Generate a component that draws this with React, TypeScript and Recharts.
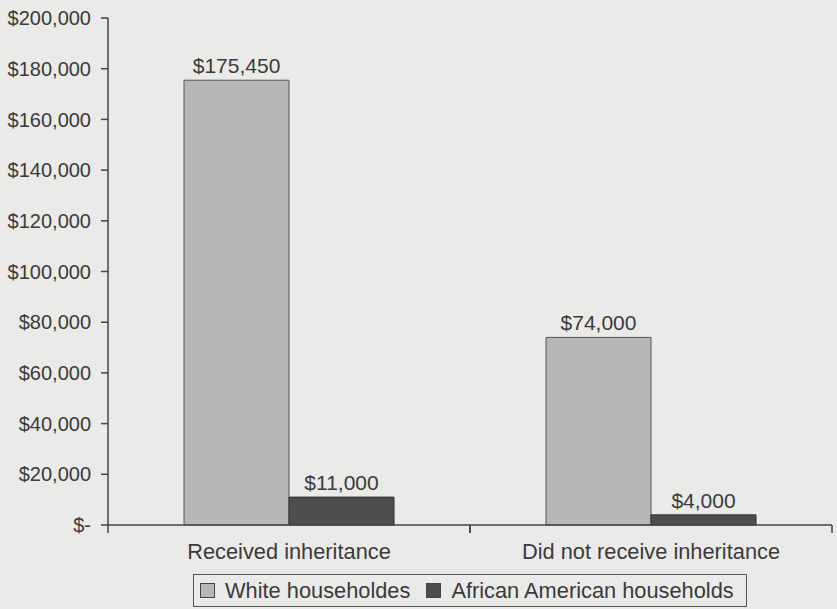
import React from "react";
import { BarChart, Bar, XAxis, YAxis, Legend, LabelList } from "recharts";

const categories = ["Received inheritance", "Did not receive inheritance"];
const whiteValues = [175450, 74000];
const africanAmericanValues = [11000, 4000];
const yTicks = [0, 20000, 40000, 60000, 80000, 100000, 120000, 140000, 160000, 180000, 200000];
const seriesOrder = ["white", "black"];

const data = categories.map((name, i) => ({
  name,
  white: whiteValues[i],
  black: africanAmericanValues[i],
}));

const W = 837;
const H = 609;
const AXIS_W = 108;
const RIGHT = 5;
const FONT = "'Liberation Sans', Arial, Helvetica, sans-serif";
const INK = "#3a3a3a";

const money = (v: number) => (v === 0 ? "$-" : "$" + v.toLocaleString("en-US"));

function CategoryTick(props: any) {
  const { x, y, payload } = props;
  const half = (W - AXIS_W - RIGHT) / categories.length / 2;
  return (
    <g>
      <line x1={x - half} y1={y} x2={x - half} y2={y + 8} stroke="#444" strokeWidth={1.5} />
      <line x1={x + half} y1={y} x2={x + half} y2={y + 8} stroke="#444" strokeWidth={1.5} />
      <text x={x} y={y + 28} textAnchor="middle" dominantBaseline="middle" fontSize={21.8} fill={INK} fontFamily={FONT}>
        {payload.value}
      </text>
    </g>
  );
}

function LegendBox(props: any) {
  // keep series order (recharts sorts legend items by name otherwise)
  const items = [...(props.payload || [])].sort(
    (a: any, b: any) => seriesOrder.indexOf(a.dataKey) - seriesOrder.indexOf(b.dataKey)
  );
  return (
    <div
      style={{
        display: "inline-flex",
        alignItems: "center",
        border: "1.5px solid #555",
        padding: "0 12px 0 6px",
        height: 31,
        fontFamily: FONT,
        fontSize: 21.8,
        color: INK,
        whiteSpace: "nowrap",
      }}
    >
      {items.map((p: any, i: number) => (
        <span key={i} style={{ display: "inline-flex", alignItems: "center", marginRight: i === 0 ? 16 : 0 }}>
          <span
            style={{
              display: "inline-block",
              width: 13,
              height: 13,
              background: p.color,
              border: "1px solid #444",
              marginRight: 10,
            }}
          />
          {p.value}
        </span>
      ))}
    </div>
  );
}

export default function App() {
  return (
    <div style={{ position: "absolute", left: 0, top: 0, width: W, height: H, background: "#eaeae8" }}>
      <BarChart
        width={W}
        height={H}
        data={data}
        margin={{ top: 18, right: RIGHT, left: 0, bottom: 0 }}
        barCategoryGap="21%"
        barGap={0}
      >
        <XAxis
          dataKey="name"
          height={51}
          tickSize={0}
          tickMargin={0}
          tickLine={false}
          axisLine={{ stroke: "#444", strokeWidth: 1.5 }}
          tick={<CategoryTick />}
          interval={0}
        />
        <YAxis
          width={AXIS_W}
          domain={[0, 200000]}
          ticks={yTicks}
          interval={0}
          tickFormatter={money}
          tickSize={7}
          tickMargin={10}
          tickLine={{ stroke: "#444", strokeWidth: 1.5 }}
          axisLine={{ stroke: "#444", strokeWidth: 1.5 }}
          tick={{ fontSize: 20, fill: INK, fontFamily: FONT }}
        />
        <Legend
          verticalAlign="bottom"
          content={<LegendBox />}
          wrapperStyle={{ left: 193, width: "auto", bottom: 2 }}
        />
        <Bar dataKey="white" name="White householdes" fill="#b7b7b5" stroke="#555" strokeWidth={1} isAnimationActive={false}>
          <LabelList dataKey="white" position="top" offset={7} formatter={money} fontSize={21} fill={INK} fontFamily={FONT} />
        </Bar>
        <Bar dataKey="black" name="African American households" fill="#4e4e4e" stroke="#333" strokeWidth={1} isAnimationActive={false}>
          <LabelList dataKey="black" position="top" offset={7} formatter={money} fontSize={21} fill={INK} fontFamily={FONT} />
        </Bar>
      </BarChart>
    </div>
  );
}
